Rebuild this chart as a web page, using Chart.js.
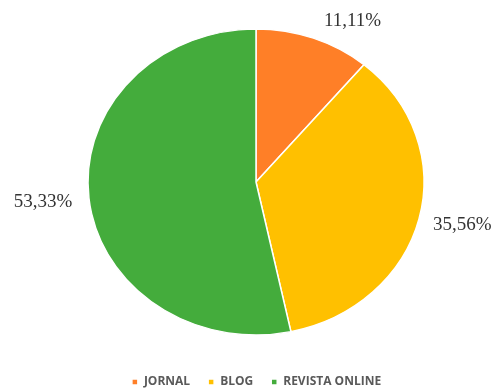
<!DOCTYPE html>
<html>
<head>
<meta charset="utf-8">
<script src="https://cdn.jsdelivr.net/npm/chart.js@4"></script>
<style>
  html, body { margin: 0; padding: 0; background: #fff; }
  #wrap { width: 497px; height: 389px; }
</style>
</head>
<body>
<div id="wrap"><canvas id="c" width="497" height="389"></canvas></div>
<script>
// Tipo de fonte consultada (percentual)
const categories = ['JORNAL', 'BLOG', 'REVISTA ONLINE'];
const values = [11.11, 35.56, 53.33];
const valueLabels = ['11,11%', '35,56%', '53,33%'];
const colors = ['#FF7F27', '#FFC000', '#44AC3C'];

// Placement of the percentage labels around the pie
const labelRadial = [1.2, 1.26, 1.275];
const labelAngleShift = [0.15, -0.02, 0];

// Pie is drawn slightly flattened (vertical/horizontal ratio)
const pieCenter = { x: 256, y: 182 };
const squash = 153 / 168;

const ellipsePie = {
  id: 'ellipsePie',
  beforeDatasetsDraw(chart) {
    const arc = chart.getDatasetMeta(0).data[0];
    const ctx = chart.ctx;
    ctx.save();
    ctx.translate(pieCenter.x, pieCenter.y);
    ctx.scale(1, squash);
    ctx.translate(-arc.x, -arc.y);
  },
  afterDatasetsDraw(chart) {
    chart.ctx.restore();
    const ctx = chart.ctx;
    const meta = chart.getDatasetMeta(0);
    ctx.save();
    ctx.font = '19px "Liberation Serif", "Times New Roman", serif';
    ctx.fillStyle = '#333333';
    ctx.textAlign = 'center';
    ctx.textBaseline = 'middle';
    meta.data.forEach((a, i) => {
      const mid = (a.startAngle + a.endAngle) / 2 + labelAngleShift[i];
      const r = a.outerRadius * labelRadial[i];
      const x = pieCenter.x + Math.cos(mid) * r;
      const y = pieCenter.y + Math.sin(mid) * r * squash;
      ctx.fillText(valueLabels[i], x, y);
    });
    ctx.restore();
  }
};

new Chart(document.getElementById('c'), {
  type: 'pie',
  data: {
    labels: categories,
    datasets: [{
      data: values,
      backgroundColor: colors,
      borderColor: '#ffffff',
      borderWidth: 1.5,
      radius: 168
    }]
  },
  options: {
    responsive: false,
    animation: false,
    events: [],
    layout: { padding: { left: 16, bottom: -9 } },
    plugins: {
      tooltip: { enabled: false },
      legend: {
        position: 'bottom',
        labels: {
          boxWidth: 6,
          boxHeight: 6,
          padding: 18,
          color: '#595959',
          font: { family: '"Open Sans", sans-serif', size: 12, weight: 'bold' }
        }
      }
    }
  },
  plugins: [ellipsePie]
});
</script>
</body>
</html>
